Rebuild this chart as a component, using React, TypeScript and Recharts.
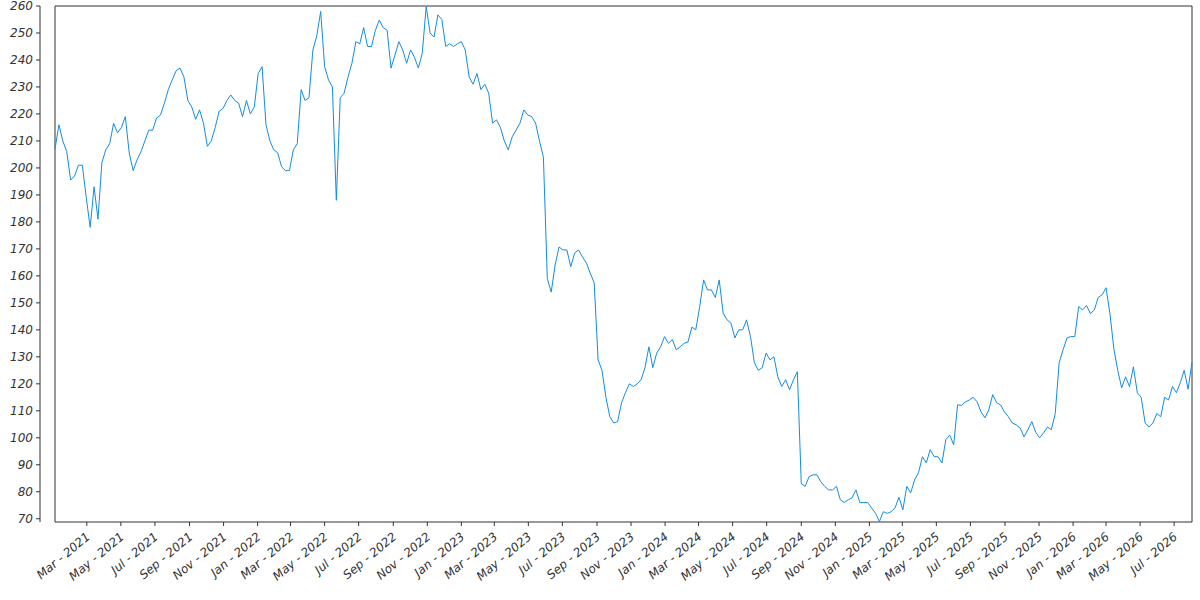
import { LineChart, Line, XAxis, YAxis, ReferenceArea } from 'recharts'

// weekly closes, first week starting 3 Jan 2021
const startDate = '2021-01-03'

const closes = [
  207, 216, 210, 206, 195.5, 197, 201, 201, 189, 178,
  193, 181, 202, 206.7, 209, 216.5, 213, 215, 219, 205.5,
  199, 203, 206, 210, 214, 214, 218.5, 219.6, 224, 229,
  232.6, 236, 237, 233.7, 225, 222.6, 218, 221.5, 216.6, 208,
  210, 215, 221, 222, 225, 227, 225, 224, 219, 225,
  220, 222.6, 235, 237.5, 216, 210, 206.7, 205.6, 200.4, 199,
  199, 206.7, 209, 229, 225, 226, 243.7, 249, 258, 237.6,
  232.6, 230, 188, 226, 227.7, 233.7, 238.8, 246.8, 246, 252,
  245, 245, 251, 254.8, 252, 251, 237, 241.8, 246.8, 243.7,
  238.8, 243.7, 241, 237, 242.5, 259.8, 250, 248.5, 256.7, 255,
  245, 246, 245, 246, 246.8, 243.7, 233.7, 231, 235, 229,
  231, 227.7, 216.6, 217.8, 215, 210, 206.7, 211.5, 214, 216.6,
  221.5, 219.6, 219, 216.6, 210, 204, 159, 154, 164, 170.7,
  169.6, 169.6, 163.4, 168.5, 169.6, 167, 164.8, 161, 157.4, 128.9,
  125, 115, 107.8, 105.5, 106, 113, 116.7, 120, 119, 120,
  121.5, 126, 133.7, 126, 131.4, 133.7, 137.5, 135, 136.4, 132.6,
  133.7, 135, 135.5, 141, 140, 148.6, 158.5, 154.8, 154.8, 152,
  158.5, 146.2, 143.7, 142.5, 137, 140, 140, 143.7, 137.5, 127.8,
  125, 126, 131.4, 128.9, 130, 122.6, 119, 121.5, 117.8, 121.5,
  124.5, 83, 82, 85.6, 86.3, 86.3, 83.7, 82, 80.7, 80.7,
  82, 77, 76, 77, 77.8, 80.7, 76, 76, 76, 74,
  72, 69, 72.6, 72, 72.6, 74, 78, 73.3, 82, 79.6,
  84.4, 87, 93, 90.7, 95.6, 93, 93, 90.7, 99.3, 101,
  97.4, 112.2, 112, 113.3, 114, 115, 113.3, 109.6, 107.4, 110.4,
  116, 113, 112.2, 109.6, 107.8, 105.5, 104.8, 103.7, 100.4, 103,
  106, 102, 100, 101.8, 104, 103, 109, 127.8, 132.6, 137,
  137.5, 137.5, 148.6, 147.4, 149, 146, 147.4, 152, 153, 155.6,
  146, 133, 125, 118.5, 122.6, 119, 126.3, 116.7, 115, 105.5,
  104, 105.5, 109, 107.8, 115, 114, 119, 116.7, 120.4, 125,
  118, 128,
]

const yTicks = [70, 80, 90, 100, 110, 120, 130, 140, 150, 160, 170, 180, 190, 200, 210, 220, 230, 240, 250, 260]
const yDomain = [68.8, 260]

const tickDates = [
  '2021-03-01', '2021-05-01', '2021-07-01', '2021-09-01', '2021-11-01',
  '2022-01-01', '2022-03-01', '2022-05-01', '2022-07-01', '2022-09-01', '2022-11-01',
  '2023-01-01', '2023-03-01', '2023-05-01', '2023-07-01', '2023-09-01', '2023-11-01',
  '2024-01-01', '2024-03-01', '2024-05-01', '2024-07-01', '2024-09-01', '2024-11-01',
  '2025-01-01', '2025-03-01', '2025-05-01', '2025-07-01', '2025-09-01', '2025-11-01',
  '2026-01-01', '2026-03-01', '2026-05-01', '2026-07-01',
]

const monthNames = ['Jan', 'Feb', 'Mar', 'Apr', 'May', 'Jun', 'Jul', 'Aug', 'Sep', 'Oct', 'Nov', 'Dec']

const WEEK = 7 * 24 * 3600 * 1000
const t0 = Date.parse(startDate + 'T00:00:00Z')
const data = closes.map((v, i) => ({ t: t0 + i * WEEK, close: v }))
const xTicks = tickDates.map((d) => Date.parse(d + 'T00:00:00Z'))

const FONT = '"DejaVu Sans", sans-serif'
const INK = '#333333'

function fmtDate(t: number) {
  const d = new Date(t)
  return `${monthNames[d.getUTCMonth()]} - ${d.getUTCFullYear()}`
}

// eslint-disable-next-line @typescript-eslint/no-explicit-any
function DateTick(props: any) {
  const { x, y, payload } = props
  return (
    <g transform={`translate(${x + 4},${y + 10})`}>
      <text
        textAnchor="end"
        transform="rotate(-40)"
        fontFamily={FONT}
        fontStyle="italic"
        fontSize={12}
        fill={INK}
      >
        {fmtDate(payload.value)}
      </text>
    </g>
  )
}

export default function App() {
  return (
    <div style={{ position: 'absolute', left: 0, top: 0, width: 1200, height: 600, background: '#fff' }}>
      <LineChart width={1200} height={600} data={data} margin={{ top: 6, right: 8, left: 0, bottom: 0 }}>
        <XAxis
          dataKey="t"
          type="number"
          domain={['dataMin', 'dataMax']}
          ticks={xTicks}
          interval={0}
          height={78}
          axisLine={false}
          tickSize={4}
          tickLine={{ stroke: INK }}
          tick={<DateTick />}
        />
        <YAxis yAxisId="gap" width={15} domain={yDomain} ticks={yTicks} tick={false} axisLine={false} tickLine={false} />
        <YAxis
          yAxisId="y"
          width={40}
          domain={yDomain}
          ticks={yTicks}
          interval={0}
          tickSize={4}
          tickMargin={3}
          axisLine={{ stroke: INK }}
          tickLine={{ stroke: INK }}
          tick={{ fontFamily: FONT, fontStyle: 'italic', fontSize: 12, fill: INK }}
        />
        <ReferenceArea
          yAxisId="y"
          x1={data[0].t}
          x2={data[data.length - 1].t}
          y1={yDomain[0]}
          y2={yDomain[1]}
          fill="none"
          fillOpacity={0}
          stroke={INK}
          strokeWidth={1}
        />
        <Line
          yAxisId="y"
          type="linear"
          dataKey="close"
          stroke="#148ce1"
          strokeWidth={1}
          dot={false}
          isAnimationActive={false}
        />
      </LineChart>
    </div>
  )
}
